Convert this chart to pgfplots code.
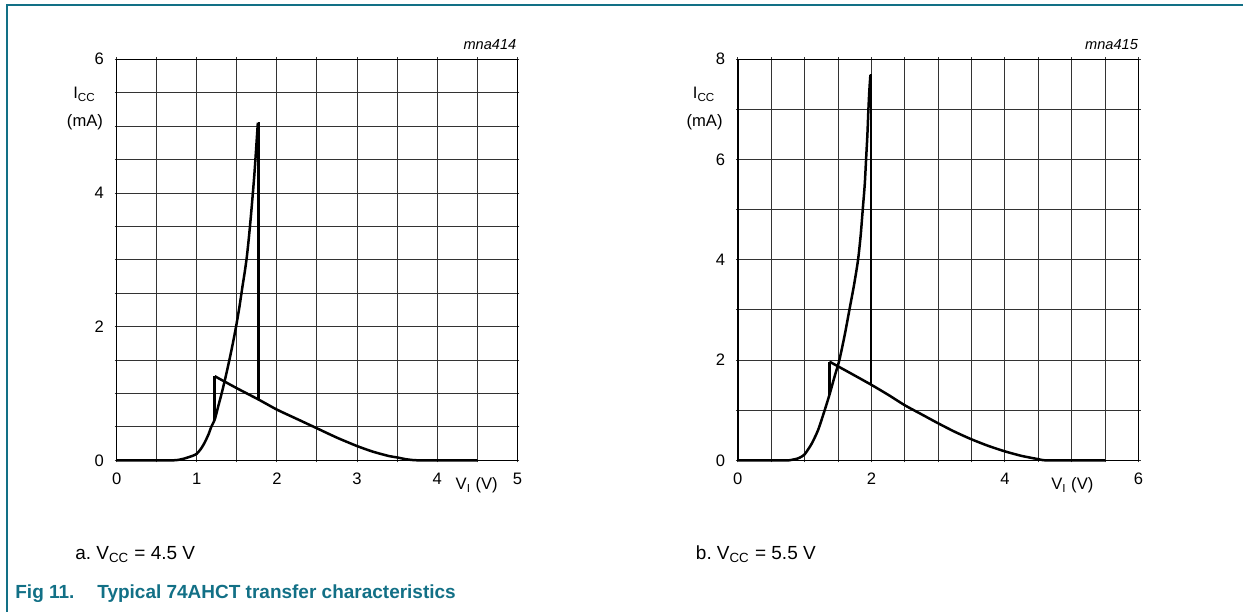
\documentclass[border=0pt]{standalone}
\usepackage{pgfplots}
\pgfplotsset{compat=1.18}
\usepackage{fontspec}
\setmainfont{Liberation Sans}
\definecolor{nxpteal}{RGB}{18,112,134}

% rising input (left, VCC = 4.5 V)
\pgfplotstableread{
x y
0 0
0.6 0
0.75 0.005
0.85 0.03
0.95 0.07
1.0 0.10
1.05 0.17
1.1 0.27
1.15 0.40
1.18 0.50
1.224 0.61
1.27 0.82
1.31 1.0
1.36 1.25
1.41 1.52
1.45 1.75
1.49 2.0
1.53 2.28
1.57 2.6
1.60 2.83
1.625 3.05
1.65 3.33
1.675 3.65
1.70 4.0
1.72 4.3
1.74 4.65
1.762 5.05
}\riseA
\pgfplotstableread{
x y
1.762 5.05
1.772 5.05
1.772 0.91
}\dropA
% falling input (left)
\pgfplotstableread{
x y
1.224 0.61
1.224 1.26
}\jumpA
\pgfplotstableread{
x y
1.224 1.26
1.5 1.08
1.772 0.91
2.0 0.76
2.25 0.62
2.5 0.48
2.75 0.34
3.0 0.215
3.2 0.13
3.4 0.065
3.5 0.045
3.6 0.02
3.7 0.005
3.85 0
4.5 0
}\fallA
% rising input (right, VCC = 5.5 V)
\pgfplotstableread{
x y
0 0
0.7 0
0.8 0.01
0.9 0.04
0.96 0.08
1.0 0.12
1.1 0.32
1.2 0.6
1.3 1.0
1.372 1.31
1.45 1.68
1.52 2.0
1.6 2.5
1.67 3.0
1.74 3.5
1.8 4.0
1.84 4.5
1.87 5.0
1.9 5.5
1.92 6.0
1.94 6.5
1.955 7.0
1.97 7.4
1.985 7.69
}\riseB
\pgfplotstableread{
x y
1.985 7.69
1.996 7.69
1.996 1.51
}\dropB
% falling input (right)
\pgfplotstableread{
x y
1.372 1.31
1.372 1.97
}\jumpB
\pgfplotstableread{
x y
1.372 1.97
1.7 1.73
1.996 1.51
2.25 1.31
2.5 1.10
2.75 0.92
3.0 0.74
3.25 0.57
3.5 0.42
3.75 0.29
4.0 0.18
4.25 0.09
4.5 0.025
4.65 0
5.5 0
}\fallB

\pgfplotsset{
  tchart/.style={
    scale only axis, width=200.5pt, height=200.7pt,
    anchor=south west, xmin=0, ymin=0,
    grid=both,
    major grid style={black!80, line width=0.5pt},
    minor grid style={black!80, line width=0.5pt},
    axis line style={black, line width=0.75pt},
    tick align=outside, major tick length=1pt, minor tick length=1pt,
    tick style={black!80, line width=0.5pt},
    /pgf/number format/assume math mode=true,
    ticklabel style={font=\fontsize{8.3}{10}\selectfont},
    xticklabel style={yshift=-1.8pt},
    yticklabel style={xshift=-1.8pt},
    clip=false,
  },
  trace/.style={black, line width=1.25pt, line join=miter, no marks},
}

\begin{document}
\begin{tikzpicture}
\path (0,0) rectangle (622pt,-306pt);
\draw[nxpteal, line width=0.8pt] (3.5pt,-306pt) -- (3.5pt,-2.5pt) -- (622pt,-2.5pt);

\begin{axis}[tchart, at={(58.35pt,-230.35pt)},
  xmax=5, ymax=6,
  xtick={0,1,...,5}, minor xtick={0.5,1.5,...,4.5},
  ytick={0,2,4,6}, minor ytick={0.5,1,1.5,2.5,3,3.5,4.5,5,5.5}]
\addplot[trace, smooth, tension=0.4] table {\riseA};
\addplot[trace] table {\dropA};
\addplot[trace] table {\jumpA};
\addplot[trace, smooth, tension=0.4] table {\fallA};
\end{axis}

\begin{axis}[tchart, at={(369.15pt,-230.35pt)},
  xmax=6, ymax=8,
  xtick={0,2,4,6}, minor xtick={0.5,1,1.5,2.5,3,3.5,4.5,5,5.5},
  ytick={0,2,4,6,8}, minor ytick={1,3,5,7}]
\addplot[trace, smooth, tension=0.4] table {\riseB};
\addplot[trace] table {\dropB};
\addplot[trace] table {\jumpB};
\addplot[trace, smooth, tension=0.4] table {\fallB};
\end{axis}

\begin{scope}[every node/.style={inner sep=0pt, font=\fontsize{8.3}{10}\selectfont}]
\node[anchor=base east, font=\fontsize{7.3}{8.8}\selectfont\itshape] at (258.5pt,-25pt) {mna414};
\node[anchor=base east, font=\fontsize{7.3}{8.8}\selectfont\itshape] at (569.5pt,-25pt) {mna415};
\node[anchor=base west] at (36.5pt,-49.5pt) {I\textsubscript{CC}};
\node[anchor=base] at (42.5pt,-63.5pt) {(mA)};
\node[anchor=base west] at (346.5pt,-49.5pt) {I\textsubscript{CC}};
\node[anchor=base] at (352.5pt,-63.5pt) {(mA)};
\node[anchor=base] at (238.5pt,-245pt) {V\textsubscript{I} (V)};
\node[anchor=base] at (536.5pt,-245pt) {V\textsubscript{I} (V)};
\end{scope}

\begin{scope}[every node/.style={inner sep=0pt, font=\fontsize{9.5}{11.4}\selectfont}]
\node[anchor=base west] at (37.5pt,-280pt) {a.};
\node[anchor=base west] at (48pt,-280pt) {V\textsubscript{CC} = 4.5 V};
\node[anchor=base west] at (348pt,-280pt) {b.};
\node[anchor=base west] at (358.5pt,-280pt) {V\textsubscript{CC} = 5.5 V};
\node[anchor=base west, text=nxpteal, font=\fontsize{9.5}{11.4}\selectfont\bfseries] at (7.5pt,-299.5pt) {Fig 11.};
\node[anchor=base west, text=nxpteal, font=\fontsize{9.5}{11.4}\selectfont\bfseries] at (48.5pt,-299.5pt) {Typical 74AHCT transfer characteristics};
\end{scope}
\end{tikzpicture}
\end{document}
